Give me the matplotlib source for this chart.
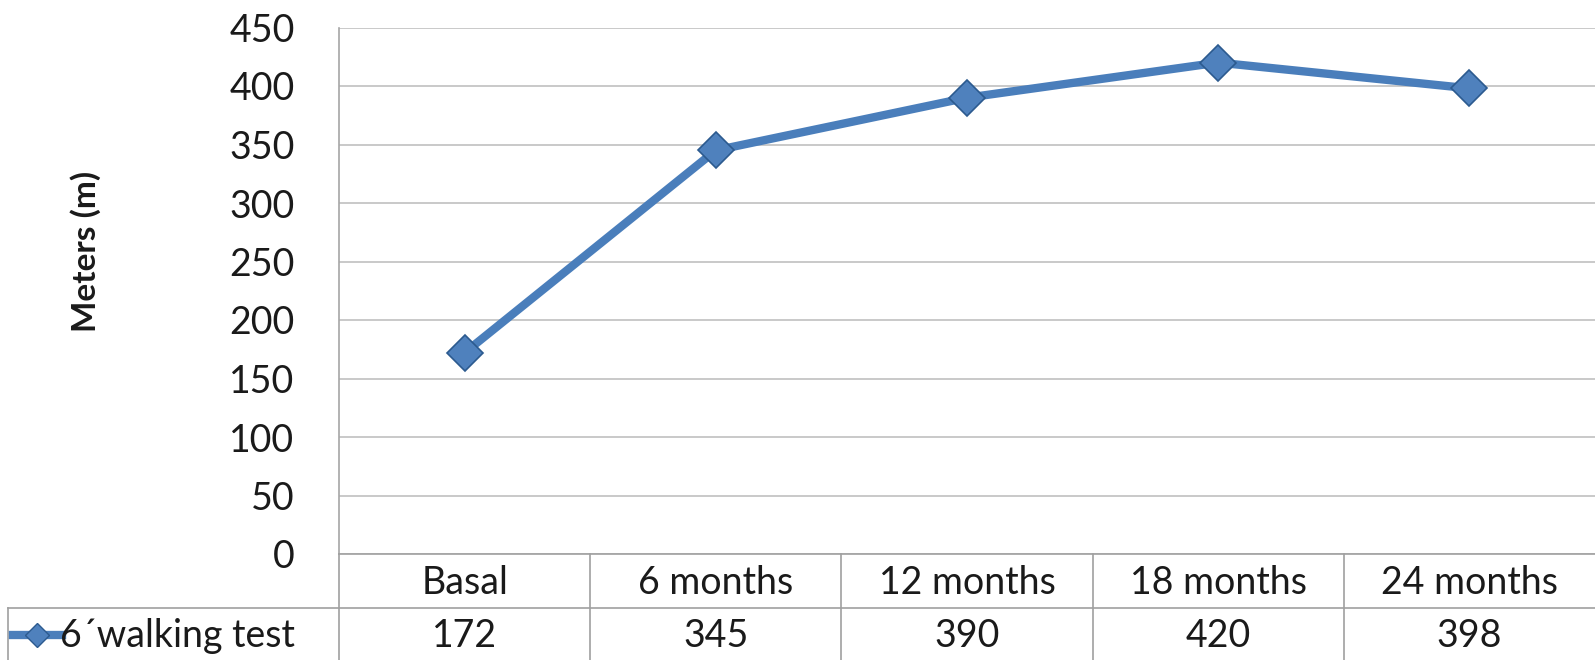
import matplotlib
matplotlib.use("Agg")
import matplotlib.pyplot as plt
from matplotlib.lines import Line2D

categories = ["Basal", "6 months", "12 months", "18 months", "24 months"]
values = [172, 345, 390, 420, 398]
series_name = "6\u00b4walking test"
yticks = [0, 50, 100, 150, 200, 250, 300, 350, 400, 450]

W, H = 1595, 660
fig = plt.figure(figsize=(W / 100, H / 100), dpi=100)
plt.rcParams['font.family'] = ['Lato', 'DejaVu Sans']
FS = 27
tc = "#1A1A1A"

L, R, T, B = 339, 1595, 27.5, 554
ax = fig.add_axes([L / W, 1 - B / H, (R - L) / W, (B - T) / H])
blue = "#4A7EBB"
ax.plot(range(len(values)), values, color=blue, lw=6, marker="D", ms=18,
        mfc="#4F81BD", mec="#2C5A8F", mew=1.2, zorder=3, solid_capstyle="round")
ax.set_xlim(-0.5, len(values) - 0.5)
ax.set_ylim(0, 450)
ax.set_yticks(yticks)
ax.set_yticklabels([str(v) for v in yticks], fontsize=FS, color=tc)
ax.tick_params(axis="y", length=0, pad=32)
ax.set_xticks([])
ax.grid(axis="y", color="#C0C0C0", lw=1.2)
ax.set_axisbelow(True)
for s in ["top", "right", "bottom"]:
    ax.spines[s].set_visible(False)
ax.spines["left"].set_color("#A6A6A6")
ax.spines["left"].set_linewidth(1.2)

def fx(px):
    return px / W
def fy(py):
    return 1 - py / H

fig.text(fx(86), fy(251), "Meters (m)", rotation=90, ha="center", va="center",
         fontsize=24, fontweight="bold", color=tc)

# data table under the axis
row1_top, row1_bot, row2_bot = 554, 608, 668
gc = "#A0A0A0"
cell_w = (R - L) / len(categories)
fig.add_artist(Line2D([fx(8), fx(R)], [fy(row1_bot), fy(row1_bot)], color=gc, lw=1.2))
fig.add_artist(Line2D([fx(L), fx(R)], [fy(row1_top), fy(row1_top)], color=gc, lw=1.2))
fig.add_artist(Line2D([fx(8), fx(8)], [fy(row1_bot), fy(row2_bot)], color=gc, lw=1.2))
for i in range(len(categories)):
    x = L + i * cell_w
    fig.add_artist(Line2D([fx(x), fx(x)], [fy(row1_top), fy(row2_bot)], color=gc, lw=1.2))
for i, (c, v) in enumerate(zip(categories, values)):
    xc = L + (i + 0.5) * cell_w
    fig.text(fx(xc), fy((row1_top + row1_bot) / 2 + 2), c, ha="center", va="center",
             fontsize=FS, color=tc)
    fig.text(fx(xc), fy(636), str(v), ha="center", va="center",
             fontsize=FS, color=tc)
# legend key
fig.add_artist(Line2D([fx(13), fx(62)], [fy(635), fy(635)], color=blue, lw=6))
fig.add_artist(Line2D([fx(37)], [fy(635)], color=blue, marker="D", ms=12,
                      mfc="#4F81BD", mec="#2C5A8F", mew=1.0, lw=0))
fig.text(fx(60), fy(636), series_name, ha="left", va="center", fontsize=FS, color=tc)

fig.savefig("out.png", dpi=100)
